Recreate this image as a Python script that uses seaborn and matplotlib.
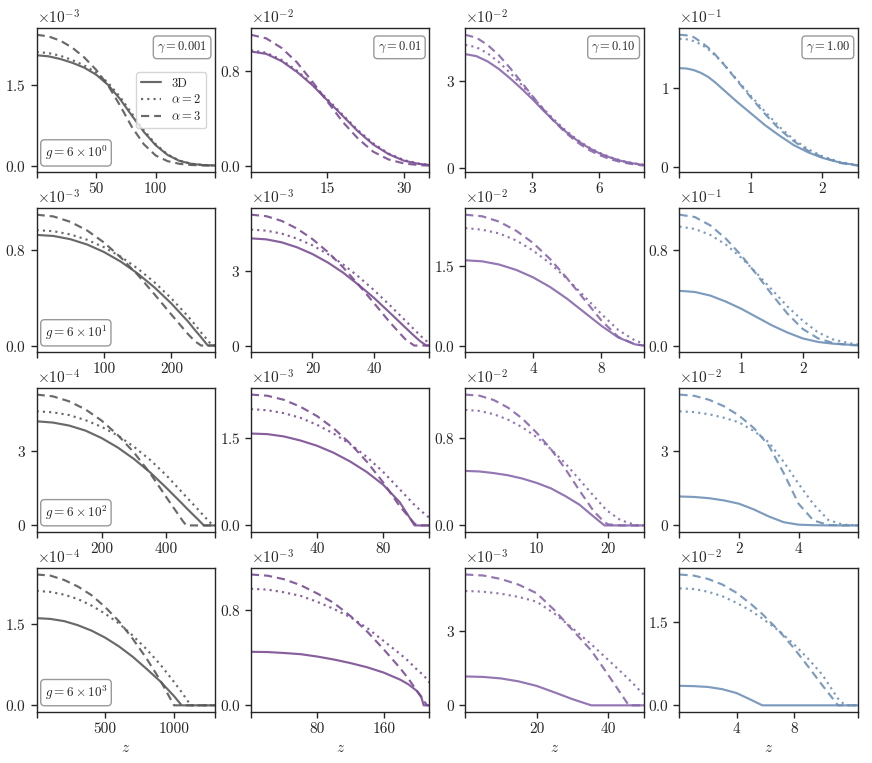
import numpy as np
import seaborn as sns
import matplotlib
matplotlib.use("Agg")
import matplotlib.pyplot as plt
from matplotlib.ticker import ScalarFormatter

# ----------------------
# data (y values in units of 10**exp of each panel)
# ----------------------
g_labels = [r"$g = 6\times10^{0}$", r"$g = 6\times10^{1}$",
            r"$g = 6\times10^{2}$", r"$g = 6\times10^{3}$"]
gamma_labels = [r"$\gamma = 0.001$", r"$\gamma = 0.01$",
                r"$\gamma = 0.10$", r"$\gamma = 1.00$"]
col_colors = ["#595959", "#7a4e93", "#8767aa", "#6f90b5"]

# row 0 : g = 6
z_00 = [0, 10, 20, 30, 40, 50, 60, 70, 80, 90, 100, 110, 120, 130, 140, 150]
d3_00 = [2.05, 2.03, 1.98, 1.91, 1.82, 1.69, 1.50, 1.24, 0.93, 0.63, 0.38, 0.20, 0.09, 0.035, 0.012, 0.004]
a2_00 = [2.11, 2.09, 2.04, 1.96, 1.86, 1.73, 1.54, 1.28, 0.97, 0.66, 0.40, 0.21, 0.095, 0.037, 0.013, 0.004]
a3_00 = [2.43, 2.40, 2.32, 2.19, 2.01, 1.78, 1.49, 1.12, 0.72, 0.40, 0.19, 0.085, 0.035, 0.013, 0.005, 0.002]

z_01 = [0, 3, 6, 9, 12, 15, 18, 21, 24, 27, 30, 33, 35]
d3_01 = [0.96, 0.94, 0.88, 0.79, 0.68, 0.55, 0.42, 0.29, 0.18, 0.10, 0.045, 0.018, 0.01]
a2_01 = [0.97, 0.95, 0.89, 0.80, 0.69, 0.56, 0.43, 0.30, 0.19, 0.105, 0.05, 0.02, 0.01]
a3_01 = [1.10, 1.07, 0.99, 0.87, 0.71, 0.54, 0.37, 0.23, 0.12, 0.055, 0.022, 0.008, 0.004]

z_02 = [0, 0.5, 1, 1.5, 2, 2.5, 3, 3.5, 4, 4.5, 5, 5.5, 6, 6.5, 7, 7.5, 8]
d3_02 = [3.93, 3.86, 3.68, 3.42, 3.10, 2.75, 2.38, 1.98, 1.60, 1.25, 0.95, 0.70, 0.50, 0.35, 0.23, 0.15, 0.09]
a2_02 = [4.25, 4.17, 3.96, 3.66, 3.29, 2.89, 2.46, 2.04, 1.65, 1.29, 0.98, 0.72, 0.52, 0.36, 0.24, 0.16, 0.10]
a3_02 = [4.60, 4.50, 4.25, 3.90, 3.46, 2.98, 2.49, 2.02, 1.59, 1.21, 0.89, 0.63, 0.44, 0.29, 0.19, 0.12, 0.07]

z_03 = [0, 0.1, 0.2, 0.3, 0.4, 0.5, 0.6, 0.8, 1.0, 1.2, 1.4, 1.6, 1.8, 2.0, 2.25, 2.5]
d3_03 = [1.25, 1.245, 1.225, 1.19, 1.14, 1.07, 0.99, 0.83, 0.68, 0.53, 0.40, 0.28, 0.19, 0.12, 0.06, 0.025]
a2_03 = [1.62, 1.613, 1.59, 1.55, 1.49, 1.41, 1.32, 1.11, 0.90, 0.70, 0.51, 0.35, 0.23, 0.14, 0.065, 0.028]
a3_03 = [1.67, 1.663, 1.64, 1.58, 1.51, 1.42, 1.32, 1.10, 0.88, 0.67, 0.48, 0.33, 0.21, 0.13, 0.055, 0.022]

# row 1 : g = 60
z_10 = [0, 25, 50, 75, 100, 125, 150, 175, 200, 225, 235, 244, 254, 260, 265]
d3_10 = [0.93, 0.921, 0.894, 0.849, 0.786, 0.705, 0.605, 0.488, 0.353, 0.20, 0.13, 0.07, 0.0, 0.0, 0.0]
a2_10 = [0.97, 0.961, 0.934, 0.889, 0.826, 0.746, 0.647, 0.531, 0.396, 0.243, 0.176, 0.11, 0.044, 0.0, 0.0]
a3_10 = [1.10, 1.085, 1.04, 0.967, 0.866, 0.74, 0.594, 0.43, 0.26, 0.094, 0.036, 0.0, 0.0, 0.0, 0.0]

z_11 = [0, 5, 10, 15, 20, 25, 30, 35, 40, 45, 50, 53, 55, 57, 58]
d3_11 = [4.30, 4.26, 4.14, 3.94, 3.67, 3.33, 2.92, 2.43, 1.91, 1.33, 0.74, 0.39, 0.17, 0.0, 0.0]
a2_11 = [4.65, 4.61, 4.49, 4.29, 4.02, 3.67, 3.25, 2.76, 2.22, 1.63, 1.02, 0.65, 0.40, 0.18, 0.08]
a3_11 = [5.25, 5.19, 5.00, 4.69, 4.27, 3.75, 3.13, 2.43, 1.70, 0.95, 0.27, 0.0, 0.0, 0.0, 0.0]

z_12 = [0, 1, 2, 3, 4, 5, 6, 7, 8, 9, 10, 10.5]
d3_12 = [1.60, 1.58, 1.52, 1.42, 1.28, 1.10, 0.88, 0.63, 0.38, 0.16, 0.03, 0.01]
a2_12 = [2.20, 2.17, 2.10, 1.97, 1.78, 1.54, 1.25, 0.93, 0.60, 0.30, 0.10, 0.05]
a3_12 = [2.45, 2.42, 2.32, 2.15, 1.92, 1.62, 1.26, 0.87, 0.48, 0.17, 0.03, 0.01]

z_13 = [0, 0.25, 0.5, 0.75, 1.0, 1.25, 1.5, 1.75, 2.0, 2.25, 2.5, 2.75, 2.9]
d3_13 = [0.46, 0.45, 0.42, 0.37, 0.31, 0.24, 0.17, 0.11, 0.06, 0.03, 0.015, 0.007, 0.004]
a2_13 = [1.00, 0.98, 0.93, 0.85, 0.74, 0.61, 0.47, 0.33, 0.21, 0.11, 0.05, 0.02, 0.01]
a3_13 = [1.10, 1.08, 1.01, 0.90, 0.76, 0.60, 0.43, 0.27, 0.14, 0.06, 0.02, 0.005, 0.0]

# row 2 : g = 600
z_20 = [0, 50, 100, 150, 200, 250, 300, 350, 400, 450, 461, 500, 515, 543, 550]
d3_20 = [4.17, 4.12, 4.00, 3.80, 3.50, 3.12, 2.66, 2.12, 1.50, 0.85, 0.70, 0.20, 0.0, 0.0, 0.0]
a2_20 = [4.57, 4.53, 4.42, 4.22, 3.95, 3.60, 3.15, 2.62, 2.00, 1.30, 1.14, 0.60, 0.38, 0.0, 0.0]
a3_20 = [5.24, 5.17, 4.97, 4.65, 4.20, 3.62, 2.92, 2.08, 1.12, 0.18, 0.0, 0.0, 0.0, 0.0, 0.0]

z_21 = [0, 10, 20, 30, 40, 50, 60, 70, 80, 90, 99, 102, 108]
d3_21 = [1.58, 1.57, 1.53, 1.46, 1.37, 1.25, 1.10, 0.92, 0.70, 0.40, 0.0, 0.0, 0.0]
a2_21 = [2.00, 1.98, 1.93, 1.85, 1.73, 1.58, 1.40, 1.18, 0.92, 0.62, 0.35, 0.27, 0.13]
a3_21 = [2.25, 2.23, 2.16, 2.04, 1.88, 1.67, 1.41, 1.10, 0.74, 0.33, 0.03, 0.0, 0.0]

z_22 = [0, 2, 4, 6, 8, 10, 12, 14, 16, 18, 19.5, 20, 21.7, 24, 25]
d3_22 = [0.50, 0.495, 0.48, 0.46, 0.43, 0.39, 0.34, 0.27, 0.19, 0.08, 0.0, 0.0, 0.0, 0.0, 0.0]
a2_22 = [1.06, 1.05, 1.02, 0.97, 0.90, 0.81, 0.70, 0.57, 0.42, 0.27, 0.16, 0.13, 0.05, 0.0, 0.0]
a3_22 = [1.20, 1.19, 1.15, 1.08, 0.98, 0.85, 0.70, 0.52, 0.32, 0.13, 0.03, 0.01, 0.0, 0.0, 0.0]

z_23 = [0, 0.5, 1, 1.5, 2, 2.5, 3, 3.5, 4, 4.5, 5, 5.5, 6]
d3_23 = [1.16, 1.14, 1.09, 1.00, 0.87, 0.64, 0.36, 0.13, 0.03, 0.01, 0.0, 0.0, 0.0]
a2_23 = [4.57, 4.54, 4.45, 4.31, 4.13, 3.78, 3.33, 2.55, 1.67, 0.85, 0.22, 0.03, 0.0]
a3_23 = [5.24, 5.19, 5.03, 4.77, 4.40, 3.90, 3.20, 2.10, 0.87, 0.20, 0.02, 0.0, 0.0]

# row 3 : g = 6000
z_30 = [0, 100, 200, 300, 400, 500, 600, 700, 800, 900, 1000, 1056, 1122, 1200, 1300]
d3_30 = [1.60, 1.585, 1.545, 1.47, 1.37, 1.24, 1.08, 0.89, 0.67, 0.44, 0.17, 0.0, 0.0, 0.0, 0.0]
a2_30 = [2.10, 2.08, 2.03, 1.95, 1.83, 1.68, 1.50, 1.28, 1.03, 0.75, 0.43, 0.24, 0.0, 0.0, 0.0]
a3_30 = [2.40, 2.38, 2.30, 2.18, 2.02, 1.80, 1.54, 1.22, 0.86, 0.46, 0.0, 0.0, 0.0, 0.0, 0.0]

z_31 = [0, 20, 40, 60, 80, 100, 120, 140, 160, 180, 190, 200, 205, 208, 212, 215]
d3_31 = [0.45, 0.448, 0.44, 0.43, 0.41, 0.385, 0.355, 0.32, 0.275, 0.215, 0.175, 0.12, 0.075, 0.0, 0.0, 0.0]
a2_31 = [0.98, 0.973, 0.95, 0.92, 0.87, 0.81, 0.74, 0.65, 0.54, 0.43, 0.37, 0.30, 0.27, 0.25, 0.22, 0.19]
a3_31 = [1.10, 1.09, 1.06, 1.01, 0.94, 0.86, 0.75, 0.62, 0.47, 0.31, 0.22, 0.12, 0.07, 0.04, 0.0, 0.0]

z_32 = [0, 5, 10, 15, 20, 25, 30, 35.3, 40, 45.8, 50]
d3_32 = [1.16, 1.14, 1.08, 0.96, 0.78, 0.52, 0.25, 0.0, 0.0, 0.0, 0.0]
a2_32 = [4.59, 4.56, 4.48, 4.35, 4.16, 3.68, 3.10, 2.45, 1.83, 1.05, 0.43]
a3_32 = [5.25, 5.21, 5.07, 4.84, 4.50, 3.82, 3.03, 2.20, 1.23, 0.0, 0.0]

z_33 = [0, 1, 2, 3, 4, 5, 5.8, 7, 8, 9, 10, 11.1, 11.6, 12.5]
d3_33 = [0.35, 0.345, 0.33, 0.29, 0.22, 0.10, 0.0, 0.0, 0.0, 0.0, 0.0, 0.0, 0.0, 0.0]
a2_33 = [2.10, 2.09, 2.04, 1.96, 1.84, 1.70, 1.56, 1.33, 1.10, 0.84, 0.55, 0.12, 0.0, 0.0]
a3_33 = [2.35, 2.33, 2.27, 2.17, 2.02, 1.82, 1.64, 1.33, 1.03, 0.70, 0.36, 0.0, 0.0, 0.0]

# exponent, y tick (in units), x tick labels per panel
exps = [[-3, -2, -2, -1], [-3, -3, -2, -1], [-4, -3, -2, -2], [-4, -3, -3, -2]]
yticks_top = [[1.5, 0.8, 3, 1], [0.8, 3, 1.5, 0.8], [3, 1.5, 0.8, 3], [1.5, 0.8, 3, 1.5]]
xticks_mid = [[[50, 100], [15, 30], [3, 6], [1, 2]],
              [[100, 200], [20, 40], [4, 8], [1, 2]],
              [[200, 400], [40, 80], [10, 20], [2, 4]],
              [[500, 1000], [80, 160], [20, 40], [4, 8]]]

panels = {
    (0, 0): (z_00, d3_00, a2_00, a3_00), (0, 1): (z_01, d3_01, a2_01, a3_01),
    (0, 2): (z_02, d3_02, a2_02, a3_02), (0, 3): (z_03, d3_03, a2_03, a3_03),
    (1, 0): (z_10, d3_10, a2_10, a3_10), (1, 1): (z_11, d3_11, a2_11, a3_11),
    (1, 2): (z_12, d3_12, a2_12, a3_12), (1, 3): (z_13, d3_13, a2_13, a3_13),
    (2, 0): (z_20, d3_20, a2_20, a3_20), (2, 1): (z_21, d3_21, a2_21, a3_21),
    (2, 2): (z_22, d3_22, a2_22, a3_22), (2, 3): (z_23, d3_23, a2_23, a3_23),
    (3, 0): (z_30, d3_30, a2_30, a3_30), (3, 1): (z_31, d3_31, a2_31, a3_31),
    (3, 2): (z_32, d3_32, a2_32, a3_32), (3, 3): (z_33, d3_33, a2_33, a3_33),
}

# ----------------------
# style
# ----------------------
sns.set_style("ticks")
plt.rcParams['font.family'] = 'serif'
plt.rcParams['font.serif'] = ['cmr10', 'DejaVu Serif']
plt.rcParams['mathtext.fontset'] = 'cm'
plt.rcParams['axes.formatter.use_mathtext'] = True
plt.rcParams['axes.unicode_minus'] = False
plt.rcParams['axes.linewidth'] = 1.0
plt.rcParams['xtick.major.size'] = 4
plt.rcParams['ytick.major.size'] = 4

fig, axes = plt.subplots(4, 4, figsize=(8.72, 7.63), dpi=100)
fig.subplots_adjust(left=0.042, right=0.984, top=0.963, bottom=0.067,
                    wspace=0.2, hspace=0.25)

styles = [("3D", "-"), (r"$\alpha = 2$", (0, (1, 1.9))), (r"$\alpha = 3$", (0, (3.8, 2.3)))]

for (r, c), (z, d3, a2, a3) in panels.items():
    ax = axes[r, c]
    scale = 10.0 ** exps[r][c]
    for (lab, ls), vals in zip(styles, [d3, a2, a3]):
        sns.lineplot(x=z, y=np.array(vals) * scale, ax=ax, color=col_colors[c],
                     linestyle=ls, lw=1.55, alpha=0.9, label=lab, legend=False)
    zmax = z[-1]
    ax.set_xlim(0, zmax)
    mids = xticks_mid[r][c]
    ax.set_xticks([0] + mids + [zmax])
    ax.set_xticklabels([""] + [str(m) for m in mids] + [""])
    ax.set_yticks([0, yticks_top[r][c] * scale])
    # fixed order of magnitude, like the original
    fmt = ScalarFormatter(useMathText=True)
    fmt.set_powerlimits((exps[r][c], exps[r][c]))
    ax.yaxis.set_major_formatter(fmt)
    ax.tick_params(labelsize=11, width=1.0)
    ax.yaxis.get_offset_text().set_fontsize(11)
    ax.set_ylabel("")
    if r == 3:
        ax.set_xlabel(r"$z$", fontsize=11)
    else:
        ax.set_xlabel("")
    box = dict(boxstyle="round,pad=0.3", fc="white", ec="#999999", lw=1.0)
    if r == 0:
        ax.text(0.955, 0.92, gamma_labels[c], transform=ax.transAxes, ha="right",
                va="top", fontsize=9, bbox=box)
    if c == 0:
        ax.text(0.045, 0.07, g_labels[r], transform=ax.transAxes, ha="left",
                va="bottom", fontsize=9.5, bbox=box)

leg = axes[0, 0].legend(loc="center right", bbox_to_anchor=(0.985, 0.5), fontsize=9,
                        frameon=True, handlelength=1.6, borderpad=0.4, labelspacing=0.3)
leg.get_frame().set_edgecolor("#cccccc")

fig.savefig("out.png", dpi=100)
